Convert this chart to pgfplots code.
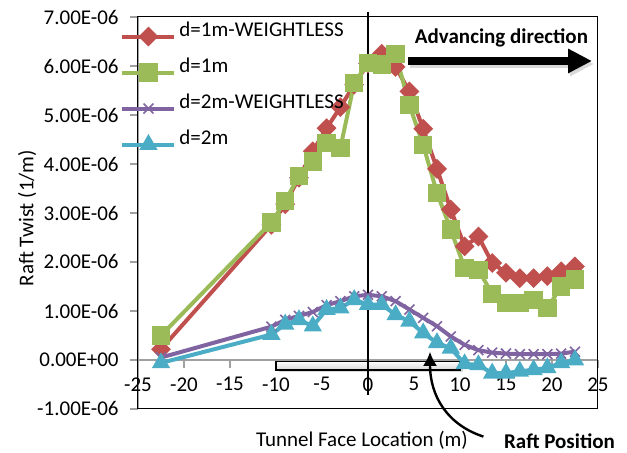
\documentclass[border=0pt]{standalone}
\usepackage{fontspec}
\setmainfont{Carlito}
\usepackage{pgfplots}
\pgfplotsset{compat=1.18}
\usetikzlibrary{arrows.meta}
\definecolor{cRed}{HTML}{C0504D}
\definecolor{cGreen}{HTML}{9BBB59}
\definecolor{cPurple}{HTML}{8064A2}
\definecolor{cCyan}{HTML}{4BACC6}
\definecolor{axgray}{HTML}{A0A0A0}
\begin{document}
\fontsize{10.5}{12.6}\selectfont
\begin{tikzpicture}
\useasboundingbox (0,0) rectangle (313.5pt,226.5pt);
\begin{axis}[
  scale only axis, width=230pt, height=196pt,
  at={(69pt,22pt)}, anchor=south west,
  xmin=-25, xmax=25, ymin=-1e-6, ymax=7e-6,
  axis x line=middle, axis y line=left,
  axis line style={-, draw=axgray, line width=0.7pt},
  hide obscured x ticks=false, hide obscured y ticks=false,
  xtick={-25,-20,...,25},
  ytick={-1e-6,0,1e-6,2e-6,3e-6,4e-6,5e-6,6e-6,7e-6},
  yticklabels={-1.00E-06,0.00E+00,1.00E-06,2.00E-06,3.00E-06,4.00E-06,5.00E-06,6.00E-06,7.00E-06},
  scaled y ticks=false,
  /pgf/number format/assume math mode=true,
  tick align=outside, major tick length=4pt,
  tick style={draw=axgray, line width=0.7pt},
  xticklabel style={anchor=north, yshift=-1pt},
  yticklabel style={anchor=east, xshift=-2pt},
  clip=false,
  xlabel={Tunnel Face Location (m)},
  ylabel={Raft Twist (1/m)},
  xlabel style={at={(axis description cs:0.487,-0.079)}, anchor=center},
  ylabel style={at={(axis description cs:-0.241,0.487)}, anchor=center, rotate=0},
  legend cell align=left,
  legend style={draw=none, fill=none, at={(axis description cs:-0.039,0.997)}, anchor=north west,
    inner sep=0pt, row sep=0pt, column sep=1.5pt,
    nodes={inner xsep=0pt, inner ysep=0pt, text height=9pt, text depth=9pt}},
  legend image code/.code={\draw[#1, mark repeat=2, mark phase=2] plot coordinates {(0pt,0pt) (13pt,0pt) (26pt,0pt)};},
]
\draw[black, line width=0.5pt] (rel axis cs:0,0) rectangle (rel axis cs:1,1);
\fill[gray!30] (axis cs:-9.7,-0.07e-6) rectangle (axis cs:10.3,-0.25e-6);
\draw[black, line width=0.8pt, top color=white, bottom color=gray!35] (axis cs:-10,-0.03e-6) rectangle (axis cs:10,-0.21e-6);

\addplot[color=cRed, line width=2pt, mark=square*, mark size=2.5pt, mark options={rotate=45, solid}] coordinates {
(-22.5,0.22e-6) (-10.5,2.76e-6) (-9,3.18e-6) (-7.5,3.72e-6) (-6,4.26e-6) (-4.5,4.73e-6) (-3,5.16e-6) (-1.5,5.62e-6)
(0,6.05e-6) (1.5,6.25e-6) (3,5.98e-6) (4.5,5.48e-6) (6,4.72e-6) (7.5,3.90e-6) (9,3.07e-6) (10.5,2.32e-6)
(12,2.52e-6) (13.5,1.98e-6) (15,1.78e-6) (16.5,1.67e-6) (18,1.67e-6) (19.5,1.71e-6) (21,1.81e-6) (22.5,1.91e-6)};
\addlegendentry{d=1m-WEIGHTLESS}
\addplot[color=cGreen, line width=2pt, mark=square*, mark size=3.6pt] coordinates {
(-22.5,0.50e-6) (-10.5,2.81e-6) (-9,3.24e-6) (-7.5,3.76e-6) (-6,4.05e-6) (-4.5,4.43e-6) (-3,4.33e-6) (-1.5,5.65e-6)
(0,6.06e-6) (1.5,6.03e-6) (3,6.25e-6) (4.5,5.20e-6) (6,4.39e-6) (7.5,3.41e-6) (9,2.66e-6) (10.5,1.88e-6)
(12,1.84e-6) (13.5,1.35e-6) (15,1.16e-6) (16.5,1.16e-6) (18,1.22e-6) (19.5,1.06e-6) (21,1.50e-6) (22.5,1.64e-6)};
\addlegendentry{d=1m}
\addplot[color=cPurple, line width=2pt, mark=x, mark size=3.5pt, mark options={line width=0.8pt}] coordinates {
(-22.5,0.05e-6) (-10.5,0.68e-6) (-9,0.82e-6) (-7.5,0.90e-6) (-6,0.98e-6) (-4.5,1.12e-6) (-3,1.20e-6) (-1.5,1.30e-6)
(0,1.33e-6) (1.5,1.30e-6) (3,1.20e-6) (4.5,1.03e-6) (6,0.86e-6) (7.5,0.69e-6) (9,0.48e-6) (10.5,0.31e-6)
(12,0.20e-6) (13.5,0.15e-6) (15,0.13e-6) (16.5,0.12e-6) (18,0.12e-6) (19.5,0.12e-6) (21,0.13e-6) (22.5,0.17e-6)};
\addlegendentry{d=2m-WEIGHTLESS}
\addplot[color=cCyan, line width=2pt, mark=triangle*, mark size=3.3pt] coordinates {
(-22.5,-0.06e-6) (-10.5,0.52e-6) (-9,0.73e-6) (-7.5,0.82e-6) (-6,0.69e-6) (-4.5,1.03e-6) (-3,1.06e-6) (-1.5,1.23e-6)
(0,1.13e-6) (1.5,1.13e-6) (3,0.92e-6) (4.5,0.79e-6) (6,0.55e-6) (7.5,0.35e-6) (9,0.24e-6) (10.5,-0.08e-6)
(12,-0.10e-6) (13.5,-0.27e-6) (15,-0.27e-6) (16.5,-0.23e-6) (18,-0.20e-6) (19.5,-0.16e-6) (21,-0.06e-6) (22.5,0.0e-6)};
\addlegendentry{d=2m}
\draw[black, line width=0.8pt] (axis cs:0,7.11e-6) -- (axis cs:0,-0.71e-6);
\end{axis}
% Advancing direction
\node[font=\bfseries] at (250.75pt,207.5pt) {Advancing direction};
\draw[gray!30, line width=4pt, -{Triangle[length=12pt,width=11.5pt]}] (205pt,194.5pt) -- (297pt,194.5pt);
\draw[black, line width=4pt, -{Triangle[length=12pt,width=11.5pt]}] (204pt,196pt) -- (296pt,196pt);
% Raft position
\node[font=\bfseries] at (279.75pt,5.65pt) {Raft Position};
\draw[black, line width=1.2pt, -{Latex[length=7pt,width=7pt]}] (241.7pt,8.2pt) .. controls (224pt,14pt) and (215pt,28pt) .. (215pt,50.6pt);
\end{tikzpicture}
\end{document}
